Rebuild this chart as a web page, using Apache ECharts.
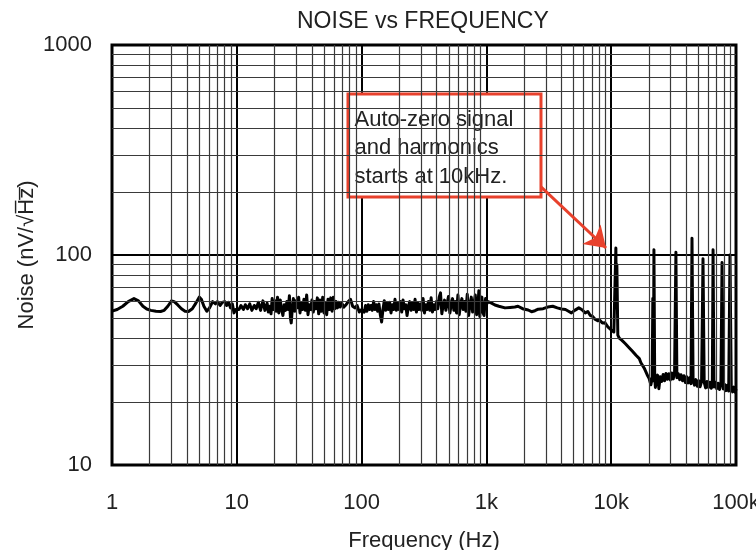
<!DOCTYPE html>
<html>
<head>
<meta charset="utf-8">
<script src="https://cdn.jsdelivr.net/npm/echarts@6/dist/echarts.min.js"></script>
<style>
  html, body { margin: 0; padding: 0; background: #fff; }
  #chart { width: 756px; height: 550px; }
</style>
</head>
<body>
<div id="chart"></div>
<script>
// Input voltage noise density vs frequency (log-log)
const lowBand = [
  [1, 54], [1.1, 55], [1.22, 57], [1.35, 60], [1.5, 62], [1.63, 60.5], [1.77, 57], [1.9, 55.3],
  [2.05, 54.5], [2.25, 54], [2.45, 53.8], [2.62, 54.5], [2.8, 57], [3.0, 60.5], [3.15, 60],
  [3.35, 58], [3.6, 55.5], [3.85, 54], [4.1, 53.8], [4.4, 55.5], [4.7, 59], [5.0, 63], [5.2, 61.5],
  [5.45, 57], [5.75, 54], [6.05, 56], [6.4, 60], [6.75, 58.5], [7.0, 60], [7.35, 57.5], [7.65, 59.5],
  [8.0, 60], [8.3, 57.5], [8.6, 59.5], [8.9, 56], [9.2, 58.5], [9.5, 53], [9.8, 55], [10, 56]
];

const midBand = [
  [10.4, 55], [10.8, 57.5], [11.3, 55], [11.7, 58], [12.2, 55.5], [12.7, 58.5], [13.2, 54.5],
  [13.8, 57.5], [14.3, 55.5], [14.9, 59.5], [15.5, 54.5], [16.2, 60.5], [16.8, 54.5],
  [17.5, 59], [17.9, 53.5], [18.3, 57], [18.8, 52.5], [19.2, 62], [19.7, 55], [20.2, 60.5], [20.7, 54],
  [21.2, 63], [21.7, 53], [22.3, 61], [22.8, 55.5], [23.4, 51.5], [24, 58], [24.6, 54.5], [25.2, 60],
  [25.8, 55], [26.4, 64], [26.9, 50], [27.3, 47.5], [27.8, 55], [28.4, 62], [29.1, 54], [29.8, 60.5],
  [30.5, 56], [31.3, 63], [32.1, 53], [32.9, 59], [33.7, 55], [34.5, 61.5], [35.4, 54.5], [36.3, 64.5],
  [37.2, 52], [38.1, 58], [39.1, 55], [40, 61], [41, 53.5], [42.1, 60], [43.1, 55.5], [44.2, 62.5],
  [45.3, 52.5], [46.4, 61], [47.6, 54], [48.8, 63], [50, 53], [51.2, 59], [52.5, 52], [53.8, 61.5],
  [55.2, 55], [56.6, 62.5], [58, 54], [59.4, 63], [61, 55.5], [62.5, 60], [64, 56], [65.6, 59.5],
  [67.3, 56.5], [69.3, 59], [72.1, 56.5], [75.1, 58], [78.2, 60], [81.5, 61.5], [84.8, 57], [88.3, 56],
  [92, 57.5], [95.8, 53.5], [100, 55],
  [102.5, 56], [105, 53.5], [107.6, 57.5], [110.3, 54], [113, 58], [115.9, 55], [118.8, 57.5],
  [121.7, 54.5], [124.8, 60], [127.9, 55], [131.1, 58], [134.4, 54], [137.7, 58.5], [141.2, 52],
  [144.7, 48], [148.3, 55], [152, 60.5], [155.8, 54.5], [159.7, 59], [163.7, 55], [167.8, 59.5],
  [172, 53], [176.3, 58], [180.7, 55], [185.2, 61.5], [189.8, 54.5], [194.6, 59], [199.5, 55],
  [204.5, 60], [209.6, 53.5], [214.8, 61], [220.2, 55.5], [225.7, 58], [231.3, 51.5], [237.1, 57],
  [243, 60], [249.1, 54.5], [255.3, 59], [261.7, 55], [268.2, 61.5], [274.9, 53.5], [281.8, 59],
  [288.8, 55], [296, 58.5], [303.4, 54.5], [311, 62], [318.8, 53], [326.8, 58], [335, 55], [343.3, 60],
  [351.9, 54.5], [360.7, 62.5], [369.7, 53.5], [379, 58], [388.5, 55], [398.2, 60], [408.1, 55.5],
  [418.3, 63], [428.8, 66], [439.5, 52.5], [450.5, 58], [461.7, 61], [473.3, 54.5], [485.1, 59],
  [497.2, 63.5], [509.6, 53], [522.4, 58], [535.5, 62], [548.9, 54.5], [562.6, 60], [576.7, 53],
  [591.1, 64.5], [605.9, 52], [621, 58], [636.5, 62], [652.4, 55], [668.7, 60], [685.4, 54], [702.6, 65],
  [720.2, 51.5], [738.2, 58], [756.6, 63], [775.5, 53.5], [794.9, 59], [814.8, 64.5], [835.2, 52],
  [856, 58], [870, 67.5], [885, 51], [900, 60], [920, 63], [940, 53], [958, 51.5], [972, 58],
  [985, 62], [1000, 58]
];

const highBand = [
  [1030, 60], [1100, 59], [1170, 57.8], [1260, 57], [1410, 56], [1550, 56.3], [1690, 56.6],
  [1790, 57], [1950, 55.5], [2160, 54.7], [2300, 53.7], [2450, 54.3], [2600, 55.2], [2850, 55.5],
  [3100, 56.5], [3400, 57], [3700, 56], [4000, 55.3], [4300, 55], [4550, 54], [4800, 53],
  [5100, 54.5], [5500, 56], [5800, 55], [6200, 53], [6500, 53.8], [6800, 51.5], [7100, 51],
  [7400, 49.5], [7800, 48.6], [8100, 48.9], [8500, 47.4], [8900, 47.6], [9400, 45.5], [10000, 44],
  [10500, 43], [10800, 42.5]
];

const rolloffFloor = [
  [11300, 41.5], [11600, 40.2], [11900, 40.8], [12200, 39.2], [12600, 39.6], [13000, 37.8],
  [13400, 37.9], [13800, 36.4], [14300, 36.6], [14800, 34.8], [15300, 35], [15800, 33.3],
  [16300, 32.6], [16800, 32.1], [17300, 30.7], [17800, 30.5], [18400, 28.9], [19000, 28.4],
  [19600, 26.6], [20100, 25.9], [20500, 24.8], [20800, 24.1], [21300, 26], [21800, 25.2],
  [22300, 26.6], [22600, 23.4], [22900, 25.4], [23500, 26.8], [24100, 23.1], [24700, 26.3], [25400, 25],
  [26100, 27], [26800, 25.2], [27500, 27.3], [28200, 25.6], [29000, 27.2], [29800, 25.4], [30600, 27.4],
  [31400, 25.7], [32200, 27.5], [33600, 26], [34500, 27.2], [35400, 25.5], [36300, 26.9], [37300, 25.2],
  [38300, 26.6], [39300, 24.7], [40300, 26.3], [41400, 24.6], [42500, 26], [43600, 24.4], [45300, 25.7],
  [46500, 24], [47700, 25.5], [49000, 23.7], [50300, 25.2], [51600, 23.6], [53000, 25], [55600, 24.8],
  [57100, 23.3], [58600, 25], [60200, 23.4], [61800, 24.8], [63400, 23.2], [64600, 24.6], [66600, 23.5],
  [68300, 24.8], [70100, 23.1], [71900, 24.5], [73800, 22.9], [75700, 24.4], [79100, 23], [81100, 24.2],
  [83200, 22.6], [85300, 24], [87400, 22.5], [91600, 23.7], [93900, 22.3], [96300, 23.5], [98700, 22.2],
  [100000, 23]
];

// Auto-zero clock and its harmonics
const autoZeroSpikes = [
  [10900, 108], [11000, 56], [11100, 90], [21550, 62], [22000, 106], [33000, 103],
  [44400, 120], [54400, 96], [65500, 106], [77300, 92], [89500, 100]
];

const xTickLabels = { 1: '1', 10: '10', 100: '100', 1000: '1k', 10000: '10k', 100000: '100k' };
const yTickLabels = { 10: '10', 100: '100', 1000: '1000' };
const xDecades = [1, 10, 100, 1000, 10000];
const yDecades = [10, 100];
const gridSteps = [2, 3, 4, 5, 6, 7, 8, 9];

const calloutLines = ['Auto-zero signal', 'and harmonics', 'starts at 10kHz.'];
const calloutBox = [[77.8, 584], [2738, 188.8]];
const calloutArrow = [[2738, 211], [9090, 108]];

const FONT = '"Liberation Sans", Arial, Helvetica, sans-serif';
const TEXT = '#222';
const RED = '#e8412c';

const trace = [...lowBand, ...midBand, ...highBand, ...rolloffFloor, ...autoZeroSpikes]
  .sort((a, b) => a[0] - b[0]);

const minorLines = [];
xDecades.forEach(d => gridSteps.forEach(s => minorLines.push({ xAxis: d * s })));
yDecades.forEach(d => gridSteps.forEach(s => minorLines.push({ yAxis: d * s })));

const chart = echarts.init(document.getElementById('chart'), null, { renderer: 'canvas' });
chart.setOption({
  animation: false,
  backgroundColor: '#fff',
  title: {
    text: 'NOISE vs FREQUENCY',
    left: 292, top: 5,
    textStyle: { fontFamily: FONT, fontSize: 23, fontWeight: 'normal', color: TEXT }
  },
  grid: {
    left: 112, right: 20, top: 45, bottom: 85,
    outerBoundsMode: 'none', containLabel: false,
    show: true, borderColor: '#000', borderWidth: 3, backgroundColor: 'transparent'
  },
  xAxis: {
    type: 'log', logBase: 10, min: 1, max: 100000,
    name: 'Frequency (Hz)', nameLocation: 'middle', nameGap: 65, nameMoveOverlap: false,
    nameTextStyle: { fontFamily: FONT, fontSize: 22, color: TEXT },
    axisLine: { show: false }, axisTick: { show: false },
    axisLabel: {
      fontFamily: FONT, fontSize: 22, color: TEXT, margin: 27,
      formatter: v => xTickLabels[Math.round(v)] || ''
    },
    splitLine: { show: true, lineStyle: { color: '#000', width: 2 } }
  },
  yAxis: {
    type: 'log', logBase: 10, min: 10, max: 1000,
    name: 'Noise (nV/\u221AH\u0305z\u0305)', nameLocation: 'middle', nameGap: 74, nameMoveOverlap: false,
    nameTextStyle: { fontFamily: FONT, fontSize: 22, color: TEXT },
    axisLine: { show: false }, axisTick: { show: false },
    axisLabel: {
      fontFamily: FONT, fontSize: 22, color: TEXT, margin: 20,
      formatter: v => yTickLabels[Math.round(v)] || ''
    },
    splitLine: { show: true, lineStyle: { color: '#000', width: 2 } }
  },
  series: [
    {
      // minor 2..9 grid lines of every decade
      type: 'line', data: [], z: 1, silent: true,
      markLine: {
        silent: true, symbol: ['none', 'none'], label: { show: false },
        lineStyle: { color: '#3a3a3a', width: 1.2, type: 'solid' },
        data: minorLines
      }
    },
    {
      type: 'line', data: trace, z: 3, showSymbol: false, symbol: 'none',
      lineStyle: { color: '#000', width: 3, join: 'round' }
    },
    {
      // callout box with arrow
      type: 'line', data: [], z: 5, silent: true,
      markArea: {
        silent: true,
        itemStyle: { color: '#fff', borderColor: RED, borderWidth: 3 },
        label: {
          show: true, position: 'insideTopLeft', distance: 0,
          padding: [13, 0, 0, 8],
          formatter: calloutLines.join('\n'),
          fontFamily: FONT, fontSize: 22, lineHeight: 28.5, color: TEXT
        },
        data: [[{ coord: calloutBox[0] }, { coord: calloutBox[1] }]]
      },
      markLine: {
        silent: true, symbol: ['none', 'arrow'], symbolSize: 20,
        label: { show: false },
        lineStyle: { color: RED, width: 3, type: 'solid' },
        data: [[{ coord: calloutArrow[0] }, { coord: calloutArrow[1] }]]
      }
    }
  ]
});
</script>
</body>
</html>
